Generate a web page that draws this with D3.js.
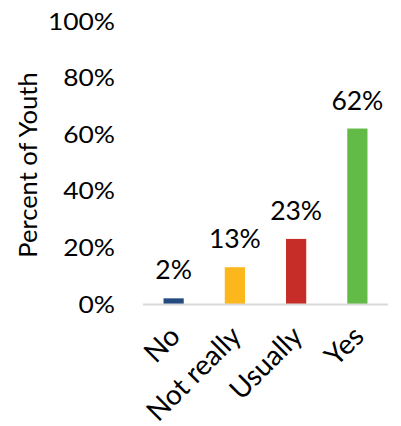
<!DOCTYPE html>
<html><head><meta charset="utf-8">
<script src="https://cdn.jsdelivr.net/npm/d3@7"></script>
<style>body{margin:0;background:#fff;} text{font-family:Lato, "Open Sans", sans-serif;fill:#000;}</style>
</head><body>
<svg id="c" width="401" height="426"></svg>
<script>
const categories = ["No", "Not really", "Usually", "Yes"];
const values = [2, 13, 23, 62];
const colors = ["#244a80", "#fcb71c", "#c72d28", "#63bb47"];
const tickValues = [0, 20, 40, 60, 80, 100];
const yTitle = "Percent of Youth";

const svg = d3.select("#c");
const x = d3.scaleBand().domain(categories).range([143, 388]).paddingInner(0.67).paddingOuter(0.335);
const y = d3.scaleLinear().domain([0, 100]).range([304, 21]);

// y tick labels
svg.append("g").selectAll("text").data(tickValues).join("text")
  .attr("x", 115).attr("y", d => y(d)).attr("dy", "0.36em")
  .attr("text-anchor", "end").style("font-size", "24px")
  .attr("transform", "translate(115,0) scale(1.1,1) translate(-115,0)")
  .text(d => d + "%");

// y title
svg.append("text").attr("transform", `translate(36.5,165) rotate(-90)`)
  .attr("text-anchor", "middle").style("font-size", "25.5px").text(yTitle);

// bars
svg.append("g").selectAll("rect").data(values).join("rect")
  .attr("x", (d, i) => x(categories[i])).attr("width", x.bandwidth())
  .attr("y", d => y(d)).attr("height", d => y(0) - y(d))
  .attr("fill", (d, i) => colors[i]);

// axis line
svg.append("line").attr("x1", 143).attr("x2", 388).attr("y1", y(0) + 0.5).attr("y2", y(0) + 0.5)
  .attr("stroke", "#d9d9d9").attr("stroke-width", 2);

// data labels
svg.append("g").selectAll("text").data(values).join("text")
  .attr("x", (d, i) => x(categories[i]) + x.bandwidth() / 2).attr("y", d => y(d) - 19)
  .attr("text-anchor", "middle").style("font-size", "26.5px")
  .text(d => d + "%");

// category labels
svg.append("g").selectAll("text").data(categories).join("text")
  .attr("transform", d => `translate(${x(d) + x.bandwidth() / 2 + 1},${y(0) + 27}) rotate(-45)`)
  .attr("text-anchor", "end").attr("dy", "0.36em").style("font-size", "28px")
  .text(d => d);
</script>
</body></html>
